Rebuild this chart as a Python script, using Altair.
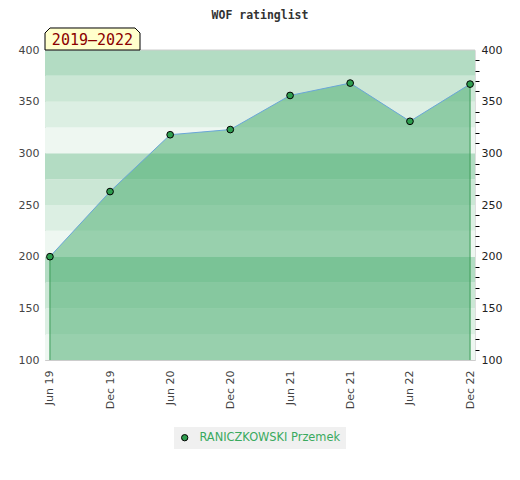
import altair as alt
import pandas as pd

# ---- data ----
months = ["2019-06-01", "2019-12-01", "2020-06-01", "2020-12-01",
          "2021-06-01", "2021-12-01", "2022-06-01", "2022-12-01"]
ratings = [200, 263, 318, 323, 356, 368, 331, 367]
player = "RANICZKOWSKI Przemek"
period_label = "2019\u20132022"
chart_title = "WOF ratinglist"

band_lows = [100, 125, 150, 175, 200, 225, 250, 275, 300, 325, 350, 375]
band_shades = ["#eef7f1", "#dcefe3", "#cbe7d5", "#b3dcc3"]
left_ticks = [100, 150, 200, 250, 300, 350, 400]
right_ticks = [100, 110, 120, 130, 140, 150, 160, 170, 180, 190, 200,
               210, 220, 230, 240, 250, 260, 270, 280, 290, 300,
               310, 320, 330, 340, 350, 360, 370, 380, 390, 400]

df = pd.DataFrame({
    "date": [m + "T00:00:00" for m in months],
    "rating": ratings,
    "player": [player] * len(ratings),
})
bands = pd.DataFrame({
    "lo": band_lows,
    "hi": [b + 25 for b in band_lows],
    "shade": [band_shades[i % 4] for i in range(len(band_lows))],
})
edges = df.iloc[[0, -1]]
label_df = pd.DataFrame({"label": [period_label]})

def dt(s):
    y, m, d = s.split("-")
    return alt.DateTime(year=int(y), month=int(m), date=int(d))

xscale = alt.Scale(domain=[alt.DateTime(year=2019, month=5, date=17),
                           alt.DateTime(year=2022, month=12, date=16)])
yscale = alt.Scale(domain=[100, 400], nice=False, zero=False)

xaxis = alt.Axis(values=[dt(m) for m in months], format="%b %y", title=None,
                 labelAngle=270, ticks=False, labelPadding=10, grid=False,
                 domainColor="#cccccc", labelColor="#444444", labelFontSize=11,
                 labelFont="DejaVu Sans")

x_enc = alt.X("date:T", scale=xscale, axis=xaxis)

band_layer = alt.Chart(bands).mark_rect().encode(
    y=alt.Y("lo:Q", scale=yscale,
            axis=alt.Axis(values=left_ticks, title=None, ticks=False, grid=False,
                          labelPadding=6, domainColor="#cccccc",
                          labelColor="#444444", labelFontSize=11,
                          labelFont="DejaVu Sans")),
    y2="hi:Q",
    fill=alt.Fill("shade:N", scale=None, legend=None),
)

area_layer = alt.Chart(df).mark_area(color="#42aa69", opacity=0.5).encode(
    x=x_enc,
    y=alt.Y("rating:Q", scale=yscale, axis=None),
    y2=alt.datum(100),
)

edge_layer = alt.Chart(edges).mark_rule(color="#3a9a56", strokeWidth=1).encode(
    x=x_enc,
    y=alt.Y("rating:Q", scale=yscale, axis=None),
    y2=alt.datum(100),
)

line_layer = alt.Chart(df).mark_line(color="#6aa6d8", strokeWidth=1).encode(
    x=x_enc,
    y=alt.Y("rating:Q", scale=yscale, axis=None),
)

point_layer = alt.Chart(df).mark_point(
    filled=True, size=45, stroke="black", strokeWidth=1, opacity=1
).encode(
    x=x_enc,
    y=alt.Y("rating:Q", scale=yscale,
            axis=alt.Axis(orient="right", values=right_ticks, title=None,
                          grid=False, domain=False, tickSize=4,
                          tickColor={"condition": {"test": "datum.value % 50 === 0",
                                                   "value": "transparent"},
                                     "value": "black"},
                          labelExpr="datum.value % 50 === 0 ? datum.label : ''",
                          labelPadding=2, labelColor="#222222", labelFontSize=11,
                          labelFont="DejaVu Sans")),
    color=alt.Color("player:N", scale=alt.Scale(range=["#2e9e4f"]),
                    legend=alt.Legend(orient="none", legendX=129, legendY=377,
                                      title=None, fillColor="#f0f0f0", padding=5,
                                      labelColor="#3aaa5e", labelFontSize=11.4,
                                      labelFont="DejaVu Sans",
                                      symbolType="circle", symbolSize=40,
                                      symbolStrokeColor="black",
                                      symbolStrokeWidth=1, labelOffset=9)),
)

top_rule = alt.Chart(label_df).mark_rule(color="#cccccc").encode(
    y=alt.value(0), x=alt.value(0), x2=alt.value(430)
)

box_path = ("M-1,0.2316 L-1,-0.126 L-0.895,-0.2316 L0.895,-0.2316 "
            "L1,-0.126 L1,0.2316 Z")
box_layer = alt.Chart(label_df).mark_point(
    shape=box_path, size=9025, fill="#ffffcc", stroke="black",
    strokeWidth=1, opacity=1, fillOpacity=1
).encode(x=alt.value(47.5), y=alt.value(-11))

text_layer = alt.Chart(label_df).mark_text(
    font="DejaVu Sans Mono", fontSize=15, color="#8b0000",
    align="center", baseline="middle"
).encode(x=alt.value(47.5), y=alt.value(-10), text="label:N")

chart = alt.layer(
    band_layer, area_layer, edge_layer, line_layer, point_layer,
    top_rule, box_layer, text_layer
).resolve_scale(y="independent").properties(
    width=430, height=310,
    autosize=alt.AutoSizeParams(type="none"),
    padding={"left": 37, "top": 42, "right": 35, "bottom": 110},
    title=alt.Title(chart_title, font="DejaVu Sans Mono", fontSize=11.5,
                    fontWeight="bold", color="#333333", frame="group",
                    offset=4.5, anchor="middle"),
).configure_view(stroke=None).configure(background="white")

chart.save("out.html", embed_options={"renderer": "svg", "actions": False})
